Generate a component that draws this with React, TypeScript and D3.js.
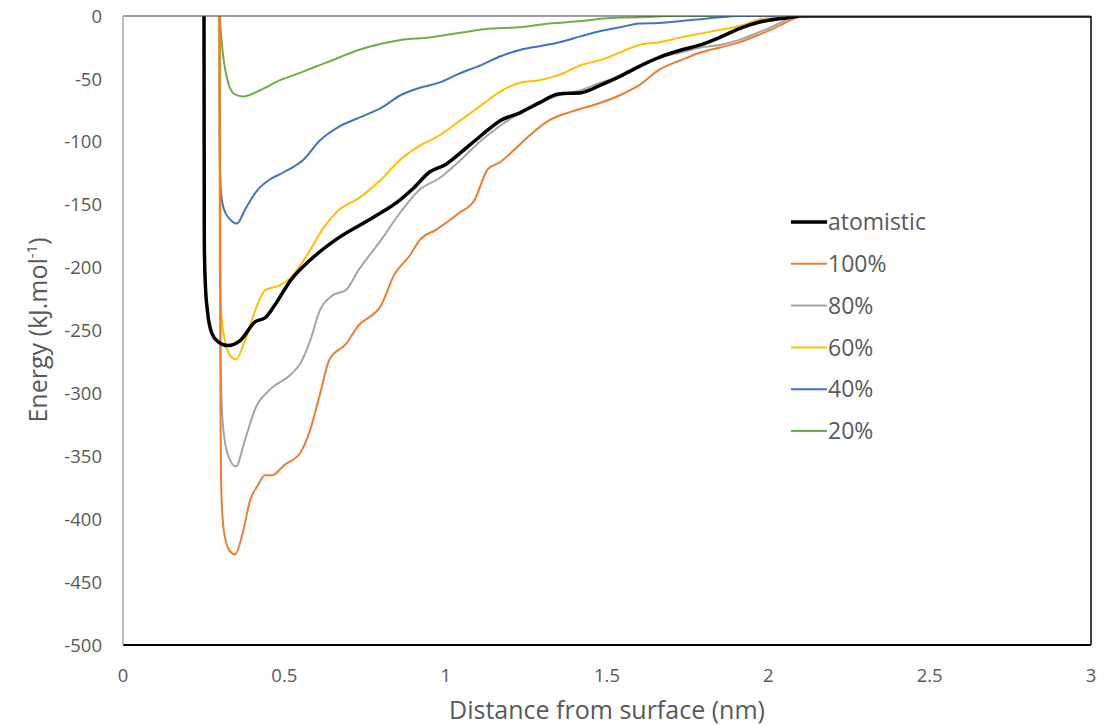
import React from "react";
import * as d3 from "d3";

type Pt = [number, number];

const atomistic: Pt[] = [[0.251,0],[0.252,-180],[0.255,-212],[0.262,-235],[0.275,-252],[0.295,-259],[0.325,-262],[0.363,-258],[0.41,-243],[0.44,-240],[0.47,-230],[0.52,-210],[0.58,-194],[0.67,-176],[0.77,-161],[0.86,-146],[0.90,-137],[0.95,-124],[1.0,-118],[1.04,-110],[1.11,-95],[1.17,-83],[1.23,-77],[1.29,-69],[1.35,-62],[1.42,-61],[1.48,-55],[1.54,-48],[1.60,-40],[1.66,-33],[1.73,-27],[1.79,-23],[1.85,-17],[1.91,-10],[1.97,-5],[2.04,-2],[2.07,-1],[2.1,0],[3.0,0]];
const s100: Pt[] = [[0.300,0],[0.302,-300],[0.305,-380],[0.312,-408],[0.328,-424],[0.347,-428],[0.369,-413],[0.394,-385],[0.418,-373],[0.44,-365],[0.462,-365],[0.50,-357],[0.55,-347],[0.58,-329],[0.61,-301],[0.64,-273],[0.69,-261],[0.73,-246],[0.80,-230],[0.84,-206],[0.89,-190],[0.92,-178],[0.97,-170],[1.04,-157],[1.09,-146],[1.13,-122],[1.17,-116],[1.21,-107],[1.26,-95],[1.32,-83],[1.39,-76],[1.48,-69],[1.54,-63],[1.60,-55],[1.66,-43],[1.73,-35],[1.79,-29],[1.85,-25],[1.91,-21],[1.97,-15],[2.04,-7],[2.08,-2],[2.11,0],[3.0,0]];
const s80: Pt[] = [[0.300,0],[0.302,-250],[0.306,-310],[0.315,-337],[0.33,-352],[0.35,-358],[0.378,-337],[0.41,-312],[0.455,-297],[0.52,-285],[0.55,-276],[0.58,-258],[0.61,-234],[0.65,-222],[0.69,-218],[0.73,-202],[0.80,-178],[0.86,-156],[0.92,-138],[0.98,-129],[1.04,-116],[1.11,-99],[1.17,-87],[1.23,-77],[1.29,-69],[1.35,-63],[1.42,-59],[1.48,-53],[1.54,-48],[1.60,-40],[1.66,-33],[1.73,-29],[1.79,-25],[1.85,-23],[1.91,-19],[1.97,-13],[2.04,-5],[2.07,-1],[2.09,0],[3.0,0]];
const s60: Pt[] = [[0.298,0],[0.300,-200],[0.305,-238],[0.315,-257],[0.33,-269],[0.35,-273],[0.378,-258],[0.41,-234],[0.44,-218],[0.487,-214],[0.52,-208],[0.55,-198],[0.58,-186],[0.62,-169],[0.67,-154],[0.73,-145],[0.80,-130],[0.86,-114],[0.92,-103],[0.98,-95],[1.04,-84],[1.11,-71],[1.17,-60],[1.23,-53],[1.29,-51],[1.35,-47],[1.42,-39],[1.48,-35],[1.54,-29],[1.60,-23],[1.66,-21],[1.73,-17],[1.79,-14],[1.85,-11],[1.91,-8],[1.97,-3],[2.04,-1],[2.07,0],[3.0,0]];
const s40: Pt[] = [[0.297,0],[0.299,-100],[0.303,-138],[0.312,-153],[0.333,-162],[0.353,-165],[0.378,-154],[0.418,-138],[0.455,-130],[0.50,-124],[0.56,-114],[0.61,-99],[0.67,-88],[0.73,-81],[0.80,-73],[0.86,-63],[0.92,-57],[0.98,-53],[1.04,-46],[1.11,-39],[1.17,-32],[1.23,-27],[1.29,-24],[1.35,-21],[1.42,-16],[1.48,-12],[1.54,-9],[1.60,-6],[1.66,-5.5],[1.73,-4],[1.79,-2.5],[1.85,-1],[1.91,0],[3.0,0]];
const s20: Pt[] = [[0.300,0],[0.304,-15],[0.312,-35],[0.325,-52],[0.345,-62],[0.372,-64],[0.425,-59],[0.487,-51],[0.55,-45],[0.61,-39],[0.67,-33],[0.73,-27],[0.80,-22],[0.86,-19],[0.95,-17],[1.04,-13.5],[1.14,-10],[1.23,-9],[1.32,-6],[1.42,-4],[1.51,-1.5],[1.60,-1],[1.70,0],[3.0,0]];

const seriesNames = ["atomistic", "100%", "80%", "60%", "40%", "20%"];
const seriesData = [atomistic, s100, s80, s60, s40, s20];
const seriesColors = ["#000000", "#ED7D31", "#A5A5A5", "#FFC000", "#4472C4", "#70AD47"];
const seriesWidths = [3.5, 2, 2, 2, 2, 2];
const xTicks = [0, 0.5, 1, 1.5, 2, 2.5, 3];
const yTicks = [0, -50, -100, -150, -200, -250, -300, -350, -400, -450, -500];

export default function App() {
  const W = 1107, H = 725;
  const x = d3.scaleLinear().domain([0, 3]).range([123, 1091]);
  const y = d3.scaleLinear().domain([-500, 0]).range([645, 16]);
  const line = d3.line<Pt>().x(d => x(d[0])).y(d => y(d[1])).curve(d3.curveMonotoneX);
  const font = "'Open Sans', sans-serif";
  const drawOrder = [5, 4, 3, 2, 1, 0];
  return (
    <svg width={W} height={H} style={{ position: "absolute", left: 0, top: 0, background: "#fff" }} fontFamily={font}>
      <defs>
        <clipPath id="plot">
          <rect x={123} y={16} width={968} height={629} />
        </clipPath>
      </defs>
      <rect x={0} y={0} width={W} height={H} fill="#fff" />
      <g clipPath="url(#plot)">
        {drawOrder.map(i => (
          <path key={i} d={line(seriesData[i]) || ""} fill="none" stroke={seriesColors[i]} strokeWidth={seriesWidths[i]} strokeLinejoin="round" />
        ))}
      </g>
      <line x1={123} x2={1091} y1={16} y2={16} stroke="#404040" strokeWidth={1.2} />
      <line x1={1091} x2={1091} y1={16} y2={645} stroke="#000" strokeWidth={1.5} />
      <line x1={123} x2={1091} y1={645} y2={645} stroke="#000" strokeWidth={2} />
      <line x1={123} x2={123} y1={16} y2={645} stroke="#a6a6a6" strokeWidth={1.5} />
      {yTicks.map(t => (
        <text key={t} x={102} y={y(t)} dy="0.36em" textAnchor="end" fontSize={18.5} fill="#595959">{t}</text>
      ))}
      {xTicks.map(t => (
        <text key={t} x={x(t)} y={682} textAnchor="middle" fontSize={18.5} fill="#595959">{t}</text>
      ))}
      <text x={607} y={719} textAnchor="middle" fontSize={25} fill="#595959">Distance from surface (nm)</text>
      <text transform="translate(47,330) rotate(-90)" textAnchor="middle" fontSize={25} fill="#595959">
        Energy (kJ.mol<tspan dy={-10} fontSize={15}>-1</tspan><tspan dy={10}>)</tspan>
      </text>
      {seriesNames.map((n, i) => {
        const ly = 222 + i * 41.8;
        return (
          <g key={n}>
            <line x1={791} x2={827} y1={ly} y2={ly} stroke={seriesColors[i]} strokeWidth={seriesWidths[i]} />
            <text x={828} y={ly} dy="0.36em" fontSize={23} fill="#595959">{n}</text>
          </g>
        );
      })}
    </svg>
  );
}
